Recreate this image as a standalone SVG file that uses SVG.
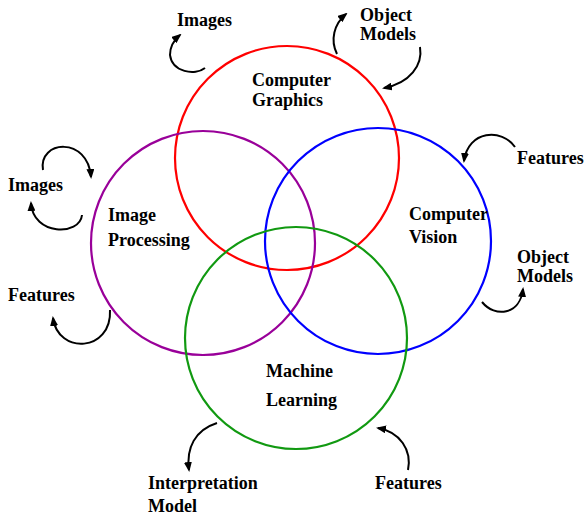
<svg xmlns="http://www.w3.org/2000/svg" width="587" height="515" viewBox="0 0 587 515">
  <style>
    .ring { fill: none; stroke-width: 2.2; }
    .lbl { font-family: "Liberation Serif", "Times New Roman", serif; font-weight: bold; font-size: 18px; fill: #000; }
    .loop { fill: none; stroke: #000; stroke-width: 2; marker-end: url(#head); }
  </style>
  <defs>
    <marker id="head" markerUnits="userSpaceOnUse" viewBox="0 0 10 8" markerWidth="10" markerHeight="8" refX="8" refY="4" orient="auto">
      <path d="M0,0 L10,4 L0,8 z" fill="#000"/>
    </marker>
  </defs>
  <rect width="587" height="515" fill="#fff"/>

  <!-- four overlapping fields -->
  <g id="computer-graphics">
    <circle class="ring" cx="287" cy="158" r="112" stroke="#ff0000"/>
    <text class="lbl" x="252" y="86">Computer</text>
    <text class="lbl" x="252" y="106">Graphics</text>
  </g>
  <g id="image-processing">
    <circle class="ring" cx="203" cy="243" r="112" stroke="#990099"/>
    <text class="lbl" x="108" y="221">Image</text>
    <text class="lbl" x="108" y="246">Processing</text>
  </g>
  <g id="computer-vision">
    <circle class="ring" cx="378" cy="241" r="113" stroke="#0000ff"/>
    <text class="lbl" x="409" y="220">Computer</text>
    <text class="lbl" x="409" y="243">Vision</text>
  </g>
  <g id="machine-learning">
    <circle class="ring" cx="296" cy="338" r="111" stroke="#119911"/>
    <text class="lbl" x="266" y="377">Machine</text>
    <text class="lbl" x="266" y="406">Learning</text>
  </g>

  <!-- inputs and outputs -->
  <g id="cg-images"><text class="lbl" x="177" y="26">Images</text></g>
  <g id="cg-object-models">
    <text class="lbl" x="360" y="21">Object</text>
    <text class="lbl" x="360" y="40">Models</text>
  </g>
  <g id="ip-images"><text class="lbl" x="8" y="191">Images</text></g>
  <g id="ip-features"><text class="lbl" x="8" y="301">Features</text></g>
  <g id="cv-features"><text class="lbl" x="517" y="164">Features</text></g>
  <g id="cv-object-models">
    <text class="lbl" x="517" y="263">Object</text>
    <text class="lbl" x="517" y="282">Models</text>
  </g>
  <g id="ml-interpretation-model">
    <text class="lbl" x="148" y="489">Interpretation</text>
    <text class="lbl" x="148" y="512">Model</text>
  </g>
  <g id="ml-features"><text class="lbl" x="375" y="489">Features</text></g>

  <!-- curved arrows -->
  <g id="connectors">
    <path class="loop" d="M205,68 C195,76 172,72 170,55 C170,46 174,40 180,35"/>
    <path class="loop" d="M337,54 C330,40 334,24 346,14"/>
    <path class="loop" d="M420,47 C423,65 410,83 384,88"/>
    <path class="loop" d="M43,170 C38,140 88,136 91,177"/>
    <path class="loop" d="M82,215 C80,236 33,236 31,203"/>
    <path class="loop" d="M110,310 C112,352 58,355 53,318"/>
    <path class="loop" d="M515,147 C502,128 468,130 464,161"/>
    <path class="loop" d="M482,302 C495,318 520,315 523,289"/>
    <path class="loop" d="M217,423 C195,430 186,448 189,470"/>
    <path class="loop" d="M408,470 C412,450 400,432 378,428"/>
  </g>
</svg>
